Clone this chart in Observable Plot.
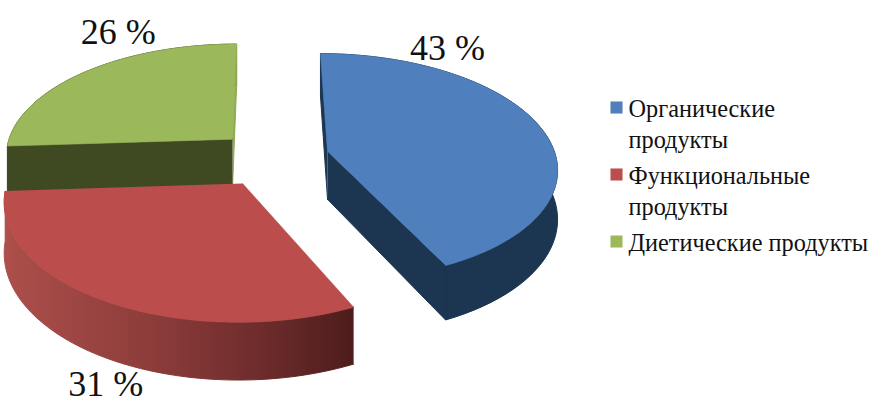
<!DOCTYPE html>
<html><head><meta charset="utf-8">
<style>html,body{margin:0;padding:0;background:#fff;overflow:hidden}</style>
<script src="https://cdn.jsdelivr.net/npm/d3@7"></script>
<script src="https://cdn.jsdelivr.net/npm/@observablehq/plot@0.6"></script>
</head><body><div id="chart"></div>
<script>
const shares = [43, 31, 26];
const percentLabels = ["43 %", "31 %", "26 %"];
const legendLabels = ["Органические\nпродукты", "Функциональные\nпродукты", "Диетические продукты"];
const topColors = ["#4f7fbc", "#bb4e4c", "#9bb85a"];
const wallColors = ["#1c3550", "url(#redWall)", "#3f4a22"];
const startFaceColors = ["#1c3550", null, "#3f4a22"];
const endFaceColors = ["#1c3550", null, "#8fab55"];

// Perspective layout of the exploded pie
const vanish = {x: 267, y: -680}, planeY = 170, depth = 1700, R = 232, thickness = 49;
const centers = [{X: 61.4, Z: 39}, {X: -24.6, Z: -25.6}, {X: -36.3, Z: 65}];
const labelPolar = [{t: 31.3, r: 1.234}, {t: 198.3, r: 1.437}, {t: 331.8, r: 1.293}];
const project = (c, deg, r, h = 0) => {
  const a = deg * Math.PI / 180;
  const X = c.X + r * R * Math.sin(a), Z = c.Z + r * R * Math.cos(a);
  const s = 1 / (1 + Z / depth);
  return {x: vanish.x + X * s, y: vanish.y + (planeY + h - vanish.y) * s};
};
const arc = (c, a0, a1, h = 0) => d3.range(0, 61).map(i => project(c, a0 + (a1 - a0) * i / 60, 1, h));

let acc = 0;
const slices = shares.map((v, i) => {
  const a0 = acc * 3.6; acc += v; const a1 = acc * 3.6;
  return {i, a0, a1, c: centers[i]};
});
const poly = (pts, color, sw = 1) => Plot.line(pts, {x: "x", y: "y", fill: color, stroke: color, strokeWidth: sw, curve: "linear"});

const marks = [() => {
  const defs = d3.create("svg:defs");
  const g = defs.append("linearGradient").attr("id", "redWall");
  [[0, "#ad4f4b"], [0.45, "#8a3b39"], [0.75, "#6c2b2b"], [1, "#4e1c1c"]]
    .forEach(([o, c]) => g.append("stop").attr("offset", o).attr("stop-color", c));
  return defs.node();
}];
for (const k of [2, 0, 1]) {
  const {a0, a1, c} = slices[k];
  const faceOf = a => [project(c, a, 0), project(c, a, 1), project(c, a, 1, thickness), project(c, a, 0, thickness)];
  marks.push(poly([...arc(c, a0, a1), ...arc(c, a1, a0, thickness)], wallColors[k]));
  if (endFaceColors[k]) marks.push(poly(faceOf(a1), endFaceColors[k]));
  if (startFaceColors[k]) marks.push(poly(faceOf(a0), startFaceColors[k]));
  marks.push(poly([project(c, a0, 0), ...arc(c, a0, a1)], topColors[k], 0.6));
}
const labelRows = slices.map(s => ({text: percentLabels[s.i], ...project(s.c, labelPolar[s.i].t, labelPolar[s.i].r)}));
marks.push(Plot.text(labelRows, {x: "x", y: "y", text: "text", fontSize: 36, fontFamily: "Liberation Serif", fill: "#111", lineAnchor: "middle"}));

const legendY = [107, 174, 241];
const legendRows = legendLabels.map((t, i) => ({t, y: legendY[i], c: topColors[i]}));
marks.push(Plot.dot(legendRows, {x: () => 616, y: "y", symbol: "square", r: 6.8, fill: "c", stroke: "none"}));
marks.push(Plot.text(legendRows, {x: () => 628, y: d => d.y - 12.5, text: "t", textAnchor: "start", lineAnchor: "top", lineHeight: 1.27, fontSize: 24.3, fontFamily: "Liberation Serif", fill: "#111"}));

document.getElementById("chart").append(Plot.plot({
  width: 873, height: 406, margin: 0,
  x: {domain: [0, 873], axis: null},
  y: {domain: [406, 0], axis: null},
  color: {type: "identity"},
  marks
}));
</script></body></html>
